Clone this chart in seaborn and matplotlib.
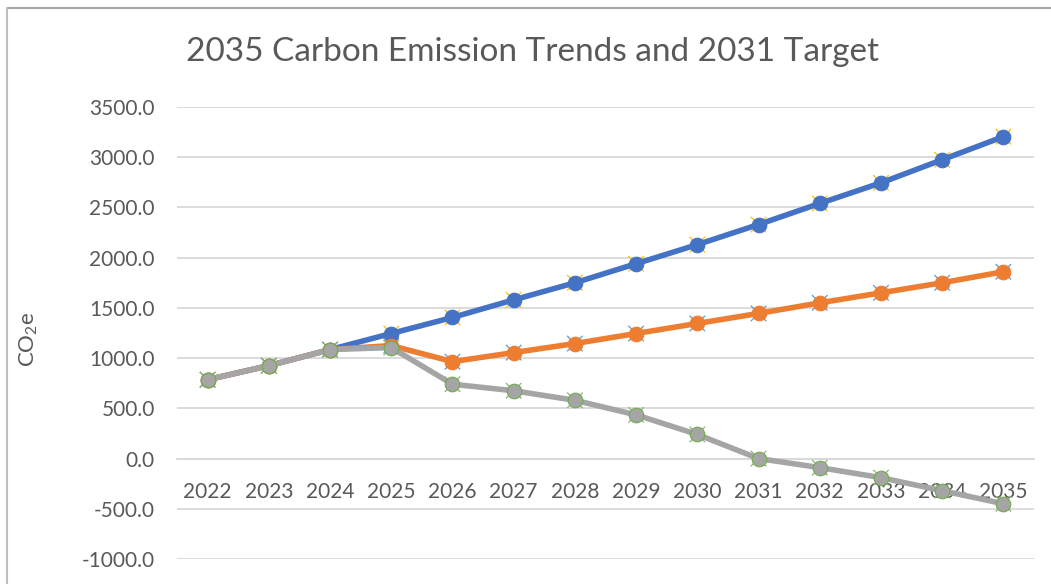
import pandas as pd
import matplotlib.pyplot as plt
import seaborn as sns
from matplotlib.lines import Line2D

# Datos
anios = list(range(2022, 2036))
tendencia = [785, 925, 1085, 1245, 1405, 1580, 1750, 1940, 2130, 2330, 2540, 2745, 2975, 3205]
reduccion = [785, 925, 1085, 1125, 965, 1055, 1145, 1245, 1345, 1445, 1550, 1650, 1750, 1860]
objetivo = [785, 925, 1085, 1105, 740, 675, 580, 435, 240, 0, -90, -190, -320, -450]

nombres = ['Tendencia', 'Reducción', 'Objetivo 2031']
colores = ['#4472C4', '#ED7D31', '#A5A5A5']
bordes = ['#4472C4', '#ED7D31', '#70AD47']
colores_x = ['#FFC000', '#5B9BD5', '#8FB08A']

df = pd.DataFrame({'Año': anios, nombres[0]: tendencia, nombres[1]: reduccion, nombres[2]: objetivo})
df_largo = df.melt(id_vars='Año', var_name='Serie', value_name='CO2e')

sns.set_style('white')
plt.rcParams['font.family'] = ['Lato', 'DejaVu Sans']
plt.rcParams['mathtext.default'] = 'regular'
texto = '#595959'

fig = plt.figure(figsize=(10.51, 5.84), dpi=100)
ax = fig.add_axes([177 / 1051, 25 / 584, 857 / 1051, 452 / 584])

# marcadores "x" que quedan detrás de los círculos
sns.scatterplot(data=df_largo, x='Año', y='CO2e', hue='Serie', palette=colores_x,
                marker='x', s=125, linewidth=0.9, legend=False, ax=ax, zorder=2)

for nombre, c, b in zip(nombres, colores, bordes):
    sub = df_largo[df_largo['Serie'] == nombre]
    sns.lineplot(data=sub, x='Año', y='CO2e', color=c, linewidth=4, marker='o',
                 markersize=10.5, markeredgecolor=b, markeredgewidth=0.8, ax=ax, zorder=3)

ax.set_xlim(2021.5, 2035.5)
ax.set_ylim(-1000, 3500)
ax.set_yticks(range(-1000, 3501, 500))
ax.set_yticklabels([f'{v:.1f}' for v in range(-1000, 3501, 500)])
ax.set_xticks(anios)
ax.set_xticklabels([str(a) for a in anios])
ax.yaxis.grid(True, color='#D9D9D9', linewidth=1.3)
ax.set_axisbelow(True)

for s in ['top', 'right', 'left']:
    ax.spines[s].set_visible(False)
ax.spines['bottom'].set_position(('data', 0))
ax.spines['bottom'].set_color('#D9D9D9')
ax.spines['bottom'].set_linewidth(1.3)

ax.tick_params(axis='both', length=0, labelsize=15, colors=texto)
ax.tick_params(axis='y', pad=16)
ax.tick_params(axis='x', pad=17)

ax.set_xlabel('')
ax.set_ylabel('CO$_2$e', fontsize=16, color=texto)
ax.yaxis.set_label_coords(-0.160, 0.485)

fig.text(533 / 1051, 1 - 52 / 584, '2035 Carbon Emission Trends and 2031 Target',
         ha='center', va='center', fontsize=24, color=texto)

# marco del área del gráfico
fig.add_artist(Line2D([7 / 1051, 1.05], [1 - 8 / 584] * 2, color='#A6A6A6', linewidth=1.5))
fig.add_artist(Line2D([7 / 1051] * 2, [-0.05, 1 - 8 / 584], color='#BFBFBF', linewidth=1.5))

fig.savefig('out.png', dpi=100)
